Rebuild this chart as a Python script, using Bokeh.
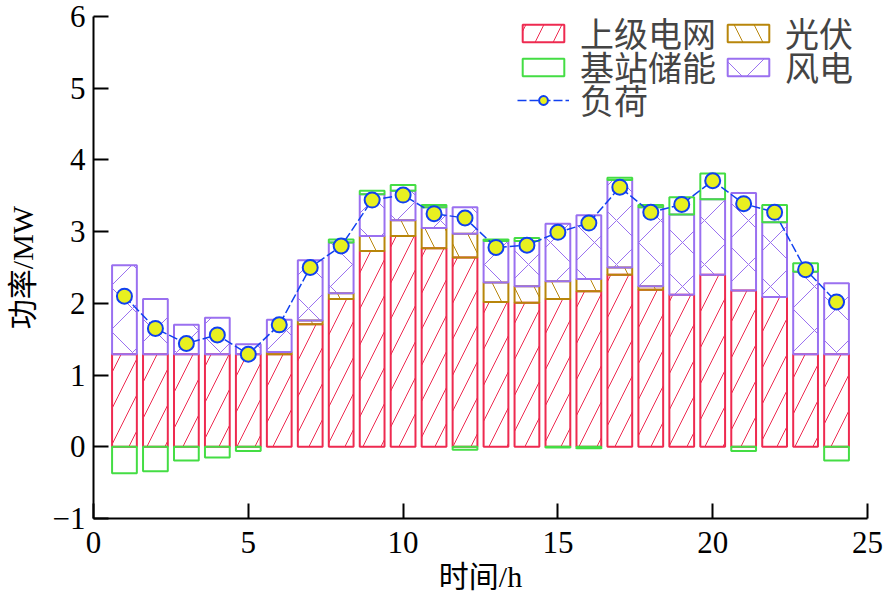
import numpy as np
from bokeh.plotting import figure
from bokeh.models import Legend, LegendItem, ColumnDataSource
from bokeh.embed import file_html
from bokeh.resources import INLINE

# hourly power (MW)
hours = list(range(1, 25))
grid = [1.29, 1.29, 1.29, 1.29, 1.29, 1.29, 1.71, 2.06, 2.73, 2.94, 2.77, 2.64,
        2.02, 2.01, 2.06, 2.17, 2.40, 2.19, 2.12, 2.40, 2.18, 2.09, 1.29, 1.29]
pv = [0, 0, 0, 0, 0, 0.03, 0.05, 0.08, 0.21, 0.22, 0.28, 0.33,
      0.27, 0.23, 0.25, 0.17, 0.10, 0.05, 0, 0, 0, 0, 0, 0]
wind = [1.24, 0.77, 0.41, 0.51, 0.14, 0.45, 0.84, 0.71, 0.58, 0.41, 0.29, 0.37,
        0.58, 0.63, 0.80, 0.89, 1.22, 1.10, 1.12, 1.05, 1.36, 1.04, 1.15, 0.99]
storage = [-0.37, -0.34, -0.19, -0.15, -0.06, 0, 0, 0.04, 0.05, 0.08, 0.03, -0.04,
           0.02, 0.04, -0.01, -0.02, 0.03, 0.03, 0.24, 0.36, -0.06, 0.24, 0.12, -0.19]
load = [2.10, 1.65, 1.44, 1.56, 1.29, 1.70, 2.50, 2.80, 3.44, 3.51, 3.25, 3.19,
        2.78, 2.81, 2.99, 3.12, 3.62, 3.27, 3.38, 3.71, 3.39, 3.27, 2.47, 2.02]

x_ticks = [0, 5, 10, 15, 20, 25]
y_ticks = [-1, 0, 1, 2, 3, 4, 5, 6]

FONT = "Liberation Serif, Noto Sans CJK SC"

# stack the parts
h = np.array(hours)
g = np.array(grid)
s = np.array(pv)
w = np.array(wind)
b = np.array(storage)
pv_top = g + s
wind_top = pv_top + w
st_bottom = np.where(b > 0, wind_top, b)
st_top = np.where(b > 0, wind_top + b, 0)


def src(bottom, top, vals):
    # zero-height pieces are left out
    keep = np.array(vals) != 0
    return ColumnDataSource(data=dict(x=h[keep], bottom=np.asarray(bottom)[keep],
                                      top=np.asarray(top)[keep]))


p = figure(width=883, height=596, x_range=(0, 25), y_range=(-1, 6),
           output_backend="svg", toolbar_location=None,
           min_border_left=93, min_border_right=16, min_border_top=16, min_border_bottom=78)
p.outline_line_color = None
p.grid.visible = False
p.background_fill_color = "white"

bar = dict(x="x", bottom="bottom", top="top", width=0.8, fill_color=None, line_width=2, hatch_weight=1)

r_grid = p.vbar(source=src(np.zeros(24), g, grid), line_color="#EE2A50",
                hatch_pattern="/", hatch_color="#EE2A50", hatch_scale=36, **bar)
r_pv = p.vbar(source=src(g, pv_top, pv), line_color="#B8860B",
              hatch_pattern="\\", hatch_color="#B8860B", hatch_scale=40, **bar)
r_wind = p.vbar(source=src(pv_top, wind_top, wind), line_color="#9A70F0",
                hatch_pattern="x", hatch_color="#9A70F0", hatch_scale=44, **bar)
r_st = p.vbar(source=src(st_bottom, st_top, storage), line_color="#44DD44", **bar)

r_line = p.line(hours, load, line_color="#1040F0", line_width=1.5, line_dash="9 3")
r_pts = p.scatter(hours, load, marker="circle", size=15, fill_color="#E8F020",
                  line_color="#1040F0", line_width=2)

# three one-row legends, so the rows can sit closer than the font's line height
rows = [
    ([("上级电网", [r_grid]), ("光伏", [r_pv])], 461),
    ([("基站储能", [r_st]), ("风电", [r_wind])], 427),
    ([("负荷", [r_line, r_pts])], 394),
]
for entries, y0 in rows:
    lg = Legend(items=[LegendItem(label=t, renderers=r) for t, r in entries],
                location=(424, y0), orientation="horizontal")
    lg.border_line_color = None
    lg.background_fill_alpha = 0
    lg.label_text_font = FONT
    lg.label_text_font_size = "34px"
    lg.glyph_width = 52
    lg.glyph_height = 22
    lg.label_standoff = 11
    lg.spacing = 6
    lg.padding = 0
    lg.margin = 0
    p.add_layout(lg)

for ax in (p.xaxis, p.yaxis):
    ax.axis_line_width = 2
    ax.major_tick_line_width = 2
    ax.major_tick_in = 15
    ax.major_tick_out = 0
    ax.minor_tick_in = 0
    ax.minor_tick_out = 0
    ax.major_label_text_font = FONT
    ax.major_label_text_font_size = "31px"
    ax.major_label_text_color = "black"
    ax.axis_label_text_font = FONT
    ax.axis_label_text_font_size = "30px"
    ax.axis_label_text_font_style = "normal"
    ax.axis_label_text_color = "black"

p.xaxis.ticker = x_ticks
p.yaxis.ticker = y_ticks
p.yaxis.major_label_overrides = {-1: "−1"}
p.xaxis.axis_label = "时间/h"
p.yaxis.axis_label = "功率/MW"
p.xaxis.major_label_standoff = 13
p.xaxis.axis_label_standoff = 4
p.yaxis.major_label_standoff = 8
p.yaxis.axis_label_standoff = 11

open("out.html", "w").write(file_html(p, INLINE))
